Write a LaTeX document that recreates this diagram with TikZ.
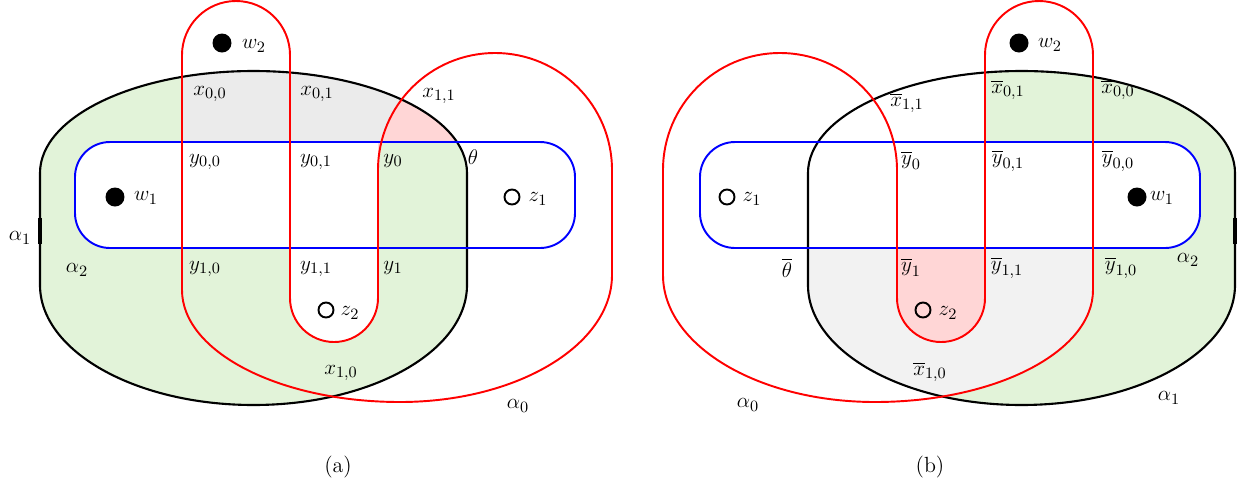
\documentclass[tikz,border=0pt]{standalone}
\usepackage{amsmath,amssymb}
\usetikzlibrary{positioning}
\definecolor{regiongreen}{HTML}{E2F3D9}
\definecolor{regiongreya}{HTML}{EBEBEB}
\definecolor{regiongreyb}{HTML}{F2F2F2}
\definecolor{regionpink}{HTML}{FFD6D6}
% the three curves of one panel, in the coordinates of panel (a)
\def\alphaloop{(40,-285) -- (40,-173) arc[start angle=180, end angle=0, x radius=213.5, y radius=102] -- (467,-285) arc[start angle=0, end angle=-180, x radius=213.5, y radius=120] -- cycle}
\def\betaloop{(75,-142) rectangle (575,-248)}
\def\gammaloop{(182,-290) -- (182,-55) arc[start angle=180, end angle=0, radius=54] -- (290,-298) arc[start angle=180, end angle=360, radius=44] -- (378,-170) arc[start angle=180, end angle=0, radius=117] -- (612,-275) arc[start angle=0, end angle=-90, x radius=212, y radius=127] arc[start angle=270, end angle=180, x radius=218, y radius=112] -- cycle}
\def\zloop{(290,-248) -- (290,-298) arc[start angle=180, end angle=360, radius=44] -- (378,-248) -- cycle}

\begin{document}
\begin{tikzpicture}[x=0.02cm, y=0.02cm,
    font=\fontsize{12.5}{15}\selectfont,
    alphacurve/.style={draw=black, line width=1.2pt},
    betacurve/.style={draw=blue, line width=1.1pt, rounded corners=0.7cm},
    gammacurve/.style={draw=red, line width=1.1pt},
    basepoint/.style={circle, fill=black, inner sep=0pt, minimum size=0.38cm},
    openpoint/.style={circle, draw=black, line width=1.1pt, inner sep=0pt, minimum size=0.3cm},
    lab/.style={inner sep=0pt}
]
\useasboundingbox (0,0) rectangle (1238,-488);

% panel (a)
\fill[regiongreen] \alphaloop;
\begin{scope}
  \clip (0,0) rectangle (378,-488);
  \fill[white, rounded corners=0.7cm] \betaloop;
\end{scope}
\begin{scope}
  \clip \alphaloop;
  \fill[regiongreya] (182,-50) rectangle (480,-142);
  \fill[regionpink] (378,-142) -- (378,-170) arc[start angle=180, end angle=0, radius=117] -- (612,-142) -- cycle;
\end{scope}
\fill[white] \zloop;
\draw[alphacurve] \alphaloop;
\draw[line width=2.2pt] (40,-218) -- (40,-244);
\draw[betacurve] \betaloop;
\draw[gammacurve] \gammaloop;

% panel (b), mirror image of (a)
\begin{scope}[shift={(1275,0)}, xscale=-1]
  \fill[regiongreen] \alphaloop;
  \begin{scope}
    \clip \alphaloop;
    \fill[white] (290,-50) rectangle (480,-142);
    \fill[regiongreyb] (182,-248) -- (182,-290) arc[start angle=180, end angle=270, x radius=218, y radius=112] arc[start angle=270, end angle=360, x radius=212, y radius=127] -- (612,-248) -- cycle;
  \end{scope}
  \fill[white, rounded corners=0.7cm] \betaloop;
  \fill[regionpink] \zloop;
  \draw[alphacurve] \alphaloop;
  \draw[line width=2.2pt] (40,-218) -- (40,-244);
  \draw[betacurve] \betaloop;
  \draw[gammacurve] \gammaloop;
\end{scope}

% points and labels (a)
\node[basepoint] (w2a) at (222,-43) {};
\node[basepoint] (w1a) at (115,-197) {};
\node[openpoint] (z1a) at (512,-197) {};
\node[openpoint] (z2a) at (326,-310) {};
\node[lab] (w2alab) at (254,-46) {$w_2$};
\node[lab] (w1alab) at (146,-198) {$w_1$};
\node[lab] (z1alab) at (538,-199) {$z_1$};
\node[lab] (z2alab) at (350,-313) {$z_2$};
\node[lab] (x00a) at (210,-94) {$x_{0,0}$};
\node[lab] (x01a) at (317,-94) {$x_{0,1}$};
\node[lab] (x11a) at (439,-96) {$x_{1,1}$};
\node[lab] (y00a) at (205,-162) {$y_{0,0}$};
\node[lab] (y01a) at (316,-162) {$y_{0,1}$};
\node[lab] (y0a) at (393,-161) {$y_0$};
\node[lab] (thetaa) at (473,-157) {$\theta$};
\node[lab] (y10a) at (205,-269) {$y_{1,0}$};
\node[lab] (y11a) at (316,-269) {$y_{1,1}$};
\node[lab] (y1a) at (393,-268) {$y_1$};
\node[lab] (x10a) at (341,-373) {$x_{1,0}$};
\node[lab] (al1a) at (20,-238) {$\alpha_1$};
\node[lab] (al2a) at (77,-270) {$\alpha_2$};
\node[lab] (al0a) at (518,-406) {$\alpha_0$};
\node[lab] (capa) at (338,-467) {(a)};

% points and labels (b)
\node[basepoint] (w2b) at (1019,-43) {};
\node[basepoint] (w1b) at (1137,-197) {};
\node[openpoint] (z1b) at (727,-197) {};
\node[openpoint] (z2b) at (923,-310) {};
\node[lab] (w2blab) at (1050,-45) {$w_2$};
\node[lab] (w1blab) at (1162,-198) {$w_1$};
\node[lab] (z1blab) at (752,-199) {$z_1$};
\node[lab] (z2blab) at (948,-313) {$z_2$};
\node[lab] (x01b) at (1008,-90) {$\overline{x}_{0,1}$};
\node[lab] (x00b) at (1118,-90) {$\overline{x}_{0,0}$};
\node[lab] (x11b) at (907,-103) {$\overline{x}_{1,1}$};
\node[lab] (y0b) at (911,-160) {$\overline{y}_0$};
\node[lab] (y01b) at (1008,-161) {$\overline{y}_{0,1}$};
\node[lab] (y00b) at (1118,-161) {$\overline{y}_{0,0}$};
\node[lab] (thetab) at (787,-268) {$\overline{\theta}$};
\node[lab] (y1b) at (911,-267) {$\overline{y}_1$};
\node[lab] (y11b) at (1007,-268) {$\overline{y}_{1,1}$};
\node[lab] (y10b) at (1121,-268) {$\overline{y}_{1,0}$};
\node[lab] (x10b) at (930,-372) {$\overline{x}_{1,0}$};
\node[lab] (al2b) at (1188,-260) {$\alpha_2$};
\node[lab] (al0b) at (748,-405) {$\alpha_0$};
\node[lab] (al1b) at (1169,-398) {$\alpha_1$};
\node[lab] (capb) at (930,-467) {(b)};
\end{tikzpicture}
\end{document}
